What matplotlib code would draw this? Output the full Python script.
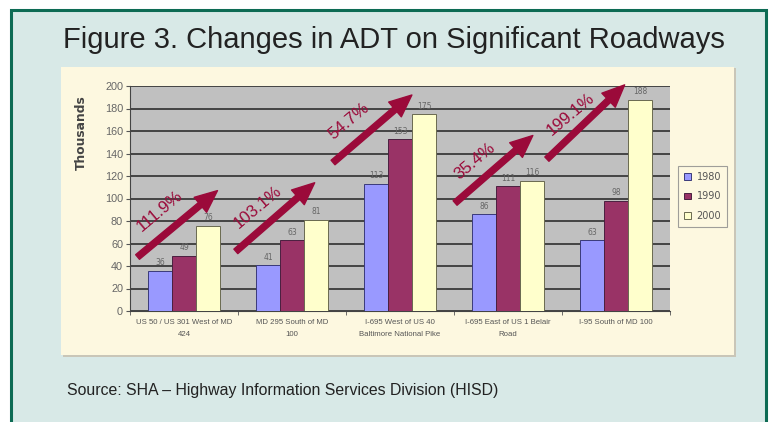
import matplotlib
matplotlib.use("Agg")
import matplotlib.pyplot as plt
from matplotlib.patches import Rectangle, FancyArrowPatch
import numpy as np

# ---------------- data ----------------
categories = [
    "US 50 / US 301 West of MD\n424",
    "MD 295 South of MD\n100",
    "I-695 West of US 40\nBaltimore National Pike",
    "I-695 East of US 1 Belair\nRoad",
    "I-95 South of MD 100",
]
years = ["1980", "1990", "2000"]
adt_1980 = [36, 41, 113, 86, 63]
adt_1990 = [49, 63, 153, 111, 98]
adt_2000 = [76, 81, 175, 116, 188]
growth_labels = ["111.9%", "103.1%", "54.7%", "35.4%", "199.1%"]
yticks = [0, 20, 40, 60, 80, 100, 120, 140, 160, 180, 200]

# ---------------- figure ----------------
W, H = 769, 422
fig = plt.figure(figsize=(W / 100, H / 100), dpi=100)
fig.patch.set_facecolor("white")

def fx(px):
    return px / W

def fy(py):
    return 1 - py / H

# outer teal panel with green border
fig.patches.append(Rectangle((fx(11), fy(440)), fx(755), (440 - 10) / H,
                             transform=fig.transFigure, facecolor="#d8e9e7",
                             edgecolor="#0d6b54", linewidth=2.2, zorder=0))
# cream chart panel with slight shadow
fig.patches.append(Rectangle((fx(63), fy(357)), fx(673), (357 - 68) / H,
                             transform=fig.transFigure, facecolor="#c9c6b8",
                             edgecolor="none", zorder=0.5))
fig.patches.append(Rectangle((fx(61), fy(355)), fx(673), (355 - 67) / H,
                             transform=fig.transFigure, facecolor="#fdf8e0",
                             edgecolor="none", zorder=0.6))

title_font = ["Liberation Sans Narrow", "Liberation Sans", "DejaVu Sans"]
fig.text(fx(394), fy(40), "Figure 3. Changes in ADT on Significant Roadways",
         ha="center", va="center", fontsize=21, color="#222222",
         family=title_font)
fig.text(fx(67), fy(391), "Source: SHA \u2013 Highway Information Services Division (HISD)",
         ha="left", va="center", fontsize=11.4, color="#222222",
         family=title_font)

# ---------------- axes ----------------
ax_l, ax_r, ax_t, ax_b = 130, 670, 86, 311
ax = fig.add_axes([fx(ax_l), fy(ax_b), fx(ax_r - ax_l), (ax_b - ax_t) / H])
ax.set_zorder(5)
ax.set_facecolor("#c0c0c0")

x = np.arange(len(categories))
bw = 0.222
colors = ["#9999ff", "#993366", "#ffffcc"]
edges = ["#3a3a7a", "#4a2040", "#6a6a50"]
series = [adt_1980, adt_1990, adt_2000]
for i, (vals, c, ec, yr) in enumerate(zip(series, colors, edges, years)):
    bars = ax.bar(x + (i - 1) * bw, vals, width=bw, color=c,
                  edgecolor=ec, linewidth=0.7, label=yr, zorder=3)
    for b, v in zip(bars, vals):
        ax.text(b.get_x() + b.get_width() / 2, v + 3, str(v),
                ha="center", va="bottom", fontsize=5.5, color="#666666",
                zorder=4)

ax.set_xlim(-0.5, len(categories) - 0.5)
ax.set_ylim(0, 200)
ax.set_yticks(yticks)
ax.set_yticklabels([str(t) for t in yticks], fontsize=7.8, color="#666666",
                   family=title_font)
ax.yaxis.grid(True, color="#3a3a3a", linewidth=1.3, zorder=1)
ax.set_axisbelow(True)
ax.tick_params(axis="y", length=3, color="#555555", pad=2)
ax.set_xticks(x)
ax.set_xticklabels(categories, fontsize=5.6, color="#555555",
                   family=title_font, linespacing=1.9)
ax.set_xticks(np.arange(len(categories) + 1) - 0.5, minor=True)
ax.tick_params(axis="x", which="major", length=0, pad=6)
ax.tick_params(axis="x", which="minor", length=3, color="#555555")
for s in ["top", "right"]:
    ax.spines[s].set_visible(False)
ax.spines["left"].set_color("#444444")
ax.spines["bottom"].set_color("#444444")
ax.set_ylabel("Thousands", fontsize=8.8, fontweight="bold", color="#444444")
ax.yaxis.set_label_coords(-0.078, 0.795)

# legend
leg = ax.legend(loc="upper left", bbox_to_anchor=(1.015, 0.645), fontsize=7,
                frameon=True, handlelength=0.7, handleheight=0.7,
                handletextpad=0.6, borderpad=0.6, labelspacing=1.0,
                fancybox=False, borderaxespad=0)
leg.get_frame().set_edgecolor("#888888")
leg.get_frame().set_facecolor("#fdf8e0")
leg.get_frame().set_linewidth(0.8)
for t in leg.get_texts():
    t.set_color("#555555")

# growth arrows (category units, thousands)
arrow_tails = [(-0.43, 48), (0.48, 53), (1.38, 132), (2.51, 96), (3.36, 135)]
arrow_heads = [(0.31, 107), (1.21, 114), (2.11, 192), (3.23, 156), (4.08, 201)]
label_pos = [(-0.22, 89), (0.68, 92), (1.53, 169), (2.69, 133), (3.58, 175)]
red = "#9b0a3a"
for (t0, h0, lp, lab) in zip(arrow_tails, arrow_heads, label_pos, growth_labels):
    arr = FancyArrowPatch(t0, h0, arrowstyle="simple,head_length=16,head_width=14,tail_width=4.3",
                          mutation_scale=1, color=red, zorder=6, clip_on=False,
                          shrinkA=0, shrinkB=0)
    ax.add_patch(arr)
    ax.text(lp[0], lp[1], lab, rotation=40, ha="center", va="center",
            fontsize=12.2, color=red, family=["Liberation Sans", "DejaVu Sans"],
            rotation_mode="anchor", zorder=6)

fig.savefig("out.png", dpi=100)
